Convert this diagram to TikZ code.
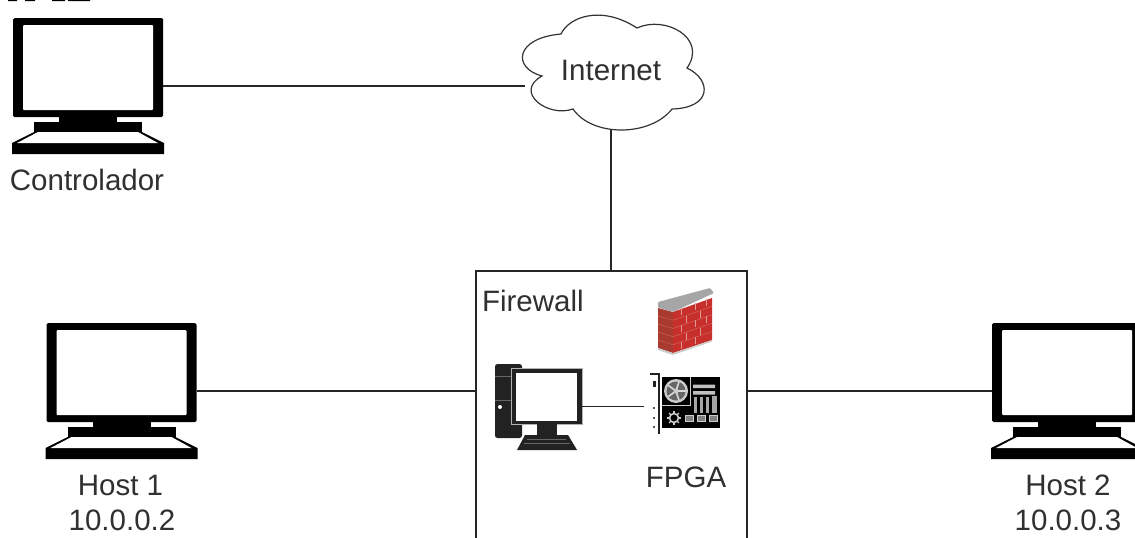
\documentclass[tikz,border=0pt]{standalone}
\usepackage{fontspec}
\setmainfont{Liberation Sans}
\definecolor{txt}{HTML}{303030}
\definecolor{icon}{HTML}{222222}
\definecolor{brickR}{HTML}{C62F2B}
\definecolor{brickL}{HTML}{A93A30}
\definecolor{mortar}{HTML}{E09A90}
\tikzset{
  lbl/.style={inner sep=0pt,outer sep=0pt,anchor=base,text=txt,font=\fontsize{29.5}{34}\selectfont},
  wire/.style={draw=black!85,line width=1.3pt},
  monitorpic/.pic={
    \fill[black,rounded corners=1.5pt] (13,18) rectangle (163,117);
    \fill[white,rounded corners=1pt] (23,25) rectangle (153,110);
    \fill[black] (59,117) rectangle (117,123);
    \fill[black] (34,122) rectangle (142,132);
    \fill[black] (34,132) -- (12,143) -- (12,154) -- (164,154) -- (164,143) -- (142,132) -- cycle;
    \fill[white] (38,132) -- (138,132) -- (158,143) -- (17,143) -- cycle;
    \coordinate (-r) at (163,86);
    \coordinate (-l) at (13,86);
  }
}
\begin{document}
\begin{tikzpicture}[x=1pt,y=-1pt]
\path[use as bounding box,clip] (0,0) rectangle (1135,538);
\fill[white] (0,0) rectangle (1135,538);
% cropped remains of text at the very top
\fill[black] (8,0) rectangle (17,1) (25,0) rectangle (35,1) (52,0) rectangle (65,1) (68,0) rectangle (90,1);

% firewall box (runs past the lower edge)
\node[draw=black!85,line width=1.3pt,minimum width=271pt,minimum height=300pt,inner sep=0pt,outer sep=0pt] (fw) at (611.5,421) {};

% monitors
\pic (ctrl) at (0,0) {monitorpic};
\pic (hosta) at (33.5,305) {monitorpic};
\pic (hostb) at (979,305) {monitorpic};

% cloud
\draw[draw=black!80,line width=1.2pt,fill=white]
  (561,34) .. controls (568,18) and (600,4) .. (637,28)
  .. controls (665,15) and (708,38) .. (687,68)
  .. controls (712,80) and (712,108) .. (672,109)
  .. controls (650,137) and (592,137) .. (573,109)
  .. controls (548,118) and (513,92) .. (542,76)
  .. controls (512,68) and (515,38) .. (561,34) -- cycle;
\coordinate (cloudL) at (525,86);
\coordinate (cloudB) at (611,130);

% labels
\node[lbl] (tinternet) at (611,80) {Internet};
\node[lbl] (tctrl) at (87,190) {Controlador};
\node[lbl] (th1) at (120.5,495) {Host 1};
\node[lbl] (ta1) at (122,530) {10.0.0.2};
\node[lbl] (th2) at (1068,495) {Host 2};
\node[lbl] (ta2) at (1068,530) {10.0.0.3};
\node[lbl,anchor=base west] (tfw) at (482,311) {Firewall};
\node[lbl] (tfpga) at (686,487) {FPGA};

% desktop PC icon
\fill[icon,rounded corners=2.5pt] (495,364) rectangle (522,438);
\draw[black!60,line width=.5pt] (495,376) -- (512,376) (495,400) -- (512,400);
\fill[white] (500,407) circle (2pt);
\fill[white!70!black] (511.3,368.3) rectangle (582.7,424.7);
\fill[icon] (512,369) rectangle (582,424);
\fill[white] (516,373) rectangle (577,421);
\fill[icon] (537,424) rectangle (557,435);
\fill[icon] (525,435) -- (568,435) -- (577,450) -- (517,450) -- cycle;
\draw[black!60,line width=.4pt] (527,439) -- (566,439) (524,443) -- (570,443);
\coordinate (pcR) at (582,406.5);

% FPGA card icon
\draw[icon,line width=1.8pt] (650,374) -- (659,374) -- (659,434);
\fill[icon] (653,381) rectangle (655.5,387);
\fill[icon] (654,408) circle (1.2pt) (654,418) circle (1.2pt) (654,427) circle (1.2pt);
\fill[black] (662,377) rectangle (720,428);
\draw[white!80!black,line width=1pt] (662,405.5) -- (690,405.5) -- (690,377);
\fill[white!80!black] (676,391) circle (12pt);
\fill[black!60] (676,391) circle (9.5pt);
\foreach \a in {0,72,144,216,288}{\draw[white!85!black,line width=1.6pt] (676,391) -- ++(\a:9.5pt);}
\fill[white!80!black] (676,391) circle (2.5pt);
\fill[white!75!black] (693,384.5) rectangle (715,388) (693,391) rectangle (715,394.5);
\foreach \x in {694,700,706}{\fill[white!65!black] (\x,397) rectangle (\x+3,413);}
\fill[white!65!black] (712,396) rectangle (717,413);
\draw[white!80!black,line width=1.6pt] (674,418) circle (4.5pt);
\foreach \a in {0,45,...,315}{\draw[white!80!black,line width=1.2pt] (674,418) ++(\a:4.5pt) -- ++(\a:2.5pt);}
\foreach \x in {685,697,709}{\draw[white!80!black,line width=1pt,fill=black!50] (\x,415.5) rectangle (\x+8,421.5);}
\coordinate (cardL) at (644,406.5);

% brick wall icon
\fill[brickL] (658,308) -- (673,312) -- (673,353) -- (658,348) -- cycle;
\fill[brickR] (673,312) -- (712,298) -- (712,340) -- (673,353) -- cycle;
\fill[black!35,rounded corners=1pt] (658,302) -- (710,288) -- (714,293) -- (673,312) -- (658,307.5) -- cycle;
\fill[black!20] (658,348) -- (673,353) -- (712,340) -- (712,341.5) -- (673,355) -- (658,350) -- cycle;
\foreach \t in {.2,.4,.6,.8}{
  \draw[mortar,line width=.4pt,opacity=.6] (673,312+41*\t) -- (712,298+42*\t);
  \draw[mortar,line width=.4pt,opacity=.5] (658,308+40*\t) -- (673,312+41*\t);
}
\foreach \x/\y in {681/308,695/303,706/299,686/316,700/311,681/325,695/320,706/316,686/333,700/328,681/342,695/337}{
  \draw[mortar,line width=.8pt] (\x,\y) -- (\x,\y+7);
}

% connectors
\draw[wire] (ctrl-r) -- (cloudL);
\draw[wire] (cloudB) -- (fw.north -| cloudB);
\draw[wire] (hosta-r) -- (hosta-r -| fw.west);
\draw[wire] (hostb-l) -- (hostb-l -| fw.east);
\draw[wire] (pcR) -- (cardL);
\end{tikzpicture}
\end{document}
